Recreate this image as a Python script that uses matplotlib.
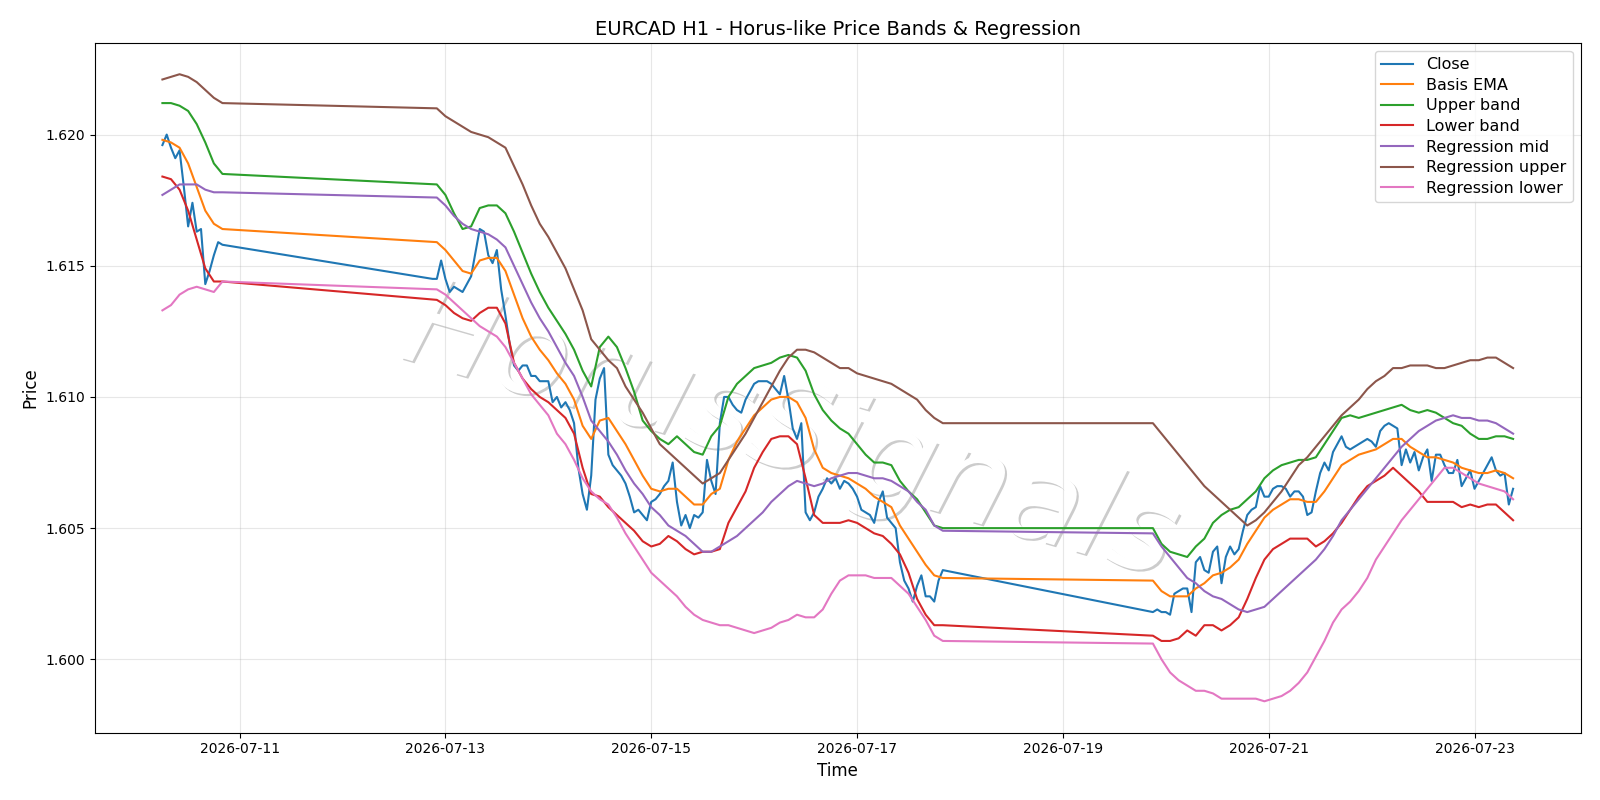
import pandas as pd
import matplotlib
matplotlib.use('Agg')
import matplotlib.pyplot as plt
import matplotlib.patheffects as pe

# ---- time axes (H1 bars, weekend gaps) ----
t_close = (pd.date_range('2026-07-10 06:00', '2026-07-10 20:00', freq='h')
           .append(pd.date_range('2026-07-12 21:00', '2026-07-17 20:00', freq='h'))
           .append(pd.date_range('2026-07-19 21:00', '2026-07-23 09:00', freq='h')))
# smooth lines
t_band = (pd.date_range('2026-07-10 06:00', '2026-07-10 20:00', freq='2h')
          .append(pd.date_range('2026-07-12 22:00', '2026-07-17 20:00', freq='2h'))
          .append(pd.date_range('2026-07-19 21:00', '2026-07-23 09:00', freq='2h')))

close = [
    # Fri 07-10
    1.6196, 1.6200, 1.6195, 1.6191, 1.6194, 1.6180, 1.6165, 1.6174, 1.6163, 1.6164,
    1.6143, 1.6148, 1.6154, 1.6159, 1.6158,
    # 07-12 .. 07-17
    1.6145, 1.6145, 1.6152, 1.6145, 1.6140, 1.6142, 1.6141, 1.6140, 1.6143, 1.6146,
    1.6155, 1.6164, 1.6163, 1.6154, 1.6151, 1.6156, 1.6141, 1.6131, 1.6120, 1.6112,
    1.6110, 1.6112, 1.6112, 1.6108, 1.6108, 1.6106, 1.6106, 1.6106, 1.6098, 1.6100,
    1.6096, 1.6098, 1.6095, 1.6090, 1.6073, 1.6063, 1.6057, 1.6070, 1.6099, 1.6107,
    1.6111, 1.6078, 1.6074, 1.6072, 1.6070, 1.6067, 1.6062, 1.6056, 1.6057, 1.6055,
    1.6053, 1.6060, 1.6061, 1.6063, 1.6066, 1.6068, 1.6075, 1.6060, 1.6051, 1.6055,
    1.6050, 1.6055, 1.6054, 1.6056, 1.6076, 1.6068, 1.6063, 1.6090, 1.6100, 1.6100,
    1.6097, 1.6095, 1.6094, 1.6099, 1.6102, 1.6105, 1.6106, 1.6106, 1.6106, 1.6105,
    1.6103, 1.6101, 1.6108, 1.6099, 1.6088, 1.6084, 1.6090, 1.6056, 1.6053, 1.6056,
    1.6062, 1.6065, 1.6069, 1.6067, 1.6069, 1.6065, 1.6068, 1.6067, 1.6065, 1.6062,
    1.6057, 1.6056, 1.6055, 1.6052, 1.6060, 1.6064, 1.6054, 1.6052, 1.6050, 1.6037,
    1.6030, 1.6027, 1.6022, 1.6028, 1.6032, 1.6024, 1.6024, 1.6022, 1.6030, 1.6034,
    # 07-19 .. 07-23
    1.6018, 1.6019, 1.6018, 1.6018, 1.6017, 1.6025, 1.6026, 1.6027, 1.6027, 1.6018,
    1.6037, 1.6039, 1.6034, 1.6033, 1.6041, 1.6043, 1.6029, 1.6039, 1.6043, 1.6040,
    1.6042, 1.6049, 1.6055, 1.6057, 1.6058, 1.6066, 1.6062, 1.6062, 1.6065, 1.6066,
    1.6066, 1.6065, 1.6062, 1.6064, 1.6064, 1.6062, 1.6055, 1.6056, 1.6064, 1.6071,
    1.6075, 1.6072, 1.6079, 1.6082, 1.6085, 1.6081, 1.6080, 1.6081, 1.6082, 1.6083,
    1.6084, 1.6083, 1.6081, 1.6087, 1.6089, 1.6090, 1.6089, 1.6088, 1.6074, 1.6080,
    1.6075, 1.6079, 1.6072, 1.6077, 1.6080, 1.6068, 1.6078, 1.6078, 1.6074, 1.6071,
    1.6071, 1.6076, 1.6066, 1.6069, 1.6072, 1.6065, 1.6068, 1.6071, 1.6074, 1.6077,
    1.6072, 1.6070, 1.6071, 1.6059, 1.6065,
]

basis_ema = [
    1.6198, 1.6197, 1.6195, 1.6189, 1.6180, 1.6171, 1.6166, 1.6164,
    1.6159, 1.6156, 1.6152, 1.6148, 1.6147, 1.6152, 1.6153, 1.6153, 1.6148, 1.6139,
    1.6130, 1.6123, 1.6118, 1.6114, 1.6109, 1.6105, 1.6099, 1.6089, 1.6084, 1.6091,
    1.6092, 1.6087, 1.6082, 1.6076, 1.6070, 1.6065, 1.6064, 1.6065, 1.6065, 1.6062,
    1.6059, 1.6059, 1.6063, 1.6065, 1.6076, 1.6083, 1.6088, 1.6093, 1.6096, 1.6099,
    1.6100, 1.6100, 1.6098, 1.6092, 1.6080, 1.6073, 1.6071, 1.6070, 1.6069, 1.6067,
    1.6065, 1.6062, 1.6060, 1.6058, 1.6051, 1.6046, 1.6041, 1.6036, 1.6032, 1.6031,
    1.6030, 1.6026, 1.6024, 1.6024, 1.6024, 1.6027, 1.6029, 1.6032, 1.6033, 1.6035,
    1.6038, 1.6044, 1.6049, 1.6054, 1.6057, 1.6059, 1.6061, 1.6061, 1.6060, 1.6060,
    1.6064, 1.6069, 1.6074, 1.6076, 1.6078, 1.6079, 1.6080, 1.6082, 1.6084, 1.6084,
    1.6081, 1.6079, 1.6077, 1.6077, 1.6076, 1.6075, 1.6073, 1.6072, 1.6071, 1.6071,
    1.6072, 1.6071, 1.6069,
]

upper_band = [
    1.6212, 1.6212, 1.6211, 1.6209, 1.6204, 1.6197, 1.6189, 1.6185,
    1.6181, 1.6177, 1.6170, 1.6164, 1.6165, 1.6172, 1.6173, 1.6173, 1.6170, 1.6163,
    1.6155, 1.6147, 1.6140, 1.6134, 1.6129, 1.6124, 1.6118, 1.6110, 1.6104, 1.6119,
    1.6123, 1.6119, 1.6111, 1.6102, 1.6091, 1.6087, 1.6084, 1.6082, 1.6085, 1.6082,
    1.6079, 1.6078, 1.6085, 1.6089, 1.6100, 1.6105, 1.6108, 1.6111, 1.6112, 1.6113,
    1.6115, 1.6116, 1.6115, 1.6110, 1.6101, 1.6095, 1.6091, 1.6088, 1.6086, 1.6082,
    1.6078, 1.6075, 1.6075, 1.6074, 1.6068, 1.6064, 1.6061, 1.6056, 1.6051, 1.6050,
    1.6050, 1.6044, 1.6041, 1.6040, 1.6039, 1.6043, 1.6046, 1.6052, 1.6055, 1.6057,
    1.6058, 1.6061, 1.6064, 1.6069, 1.6072, 1.6074, 1.6075, 1.6076, 1.6076, 1.6077,
    1.6082, 1.6087, 1.6092, 1.6093, 1.6092, 1.6093, 1.6094, 1.6095, 1.6096, 1.6097,
    1.6095, 1.6094, 1.6095, 1.6094, 1.6092, 1.6090, 1.6089, 1.6086, 1.6084, 1.6084,
    1.6085, 1.6085, 1.6084,
]

lower_band = [
    1.6184, 1.6183, 1.6179, 1.6171, 1.6160, 1.6149, 1.6144, 1.6144,
    1.6137, 1.6135, 1.6132, 1.6130, 1.6129, 1.6132, 1.6134, 1.6134, 1.6128, 1.6113,
    1.6107, 1.6103, 1.6100, 1.6098, 1.6095, 1.6092, 1.6086, 1.6073, 1.6063, 1.6062,
    1.6058, 1.6055, 1.6052, 1.6049, 1.6045, 1.6043, 1.6044, 1.6047, 1.6045, 1.6042,
    1.6040, 1.6041, 1.6041, 1.6042, 1.6052, 1.6058, 1.6064, 1.6073, 1.6079, 1.6084,
    1.6085, 1.6085, 1.6082, 1.6069, 1.6055, 1.6052, 1.6052, 1.6052, 1.6053, 1.6052,
    1.6050, 1.6048, 1.6047, 1.6044, 1.6040, 1.6033, 1.6023, 1.6017, 1.6013, 1.6013,
    1.6009, 1.6007, 1.6007, 1.6008, 1.6011, 1.6009, 1.6013, 1.6013, 1.6011, 1.6013,
    1.6016, 1.6023, 1.6031, 1.6038, 1.6042, 1.6044, 1.6046, 1.6046, 1.6046, 1.6043,
    1.6045, 1.6048, 1.6052, 1.6057, 1.6062, 1.6066, 1.6068, 1.6070, 1.6073, 1.6070,
    1.6067, 1.6064, 1.6060, 1.6060, 1.6060, 1.6060, 1.6058, 1.6059, 1.6058, 1.6059,
    1.6059, 1.6056, 1.6053,
]

reg_mid = [
    1.6177, 1.6179, 1.6181, 1.6181, 1.6181, 1.6179, 1.6178, 1.6178,
    1.6176, 1.6173, 1.6169, 1.6166, 1.6164, 1.6163, 1.6162, 1.6160, 1.6157, 1.6150,
    1.6143, 1.6136, 1.6130, 1.6125, 1.6119, 1.6113, 1.6108, 1.6100, 1.6091, 1.6087,
    1.6083, 1.6078, 1.6072, 1.6067, 1.6063, 1.6058, 1.6055, 1.6051, 1.6049, 1.6047,
    1.6044, 1.6041, 1.6041, 1.6043, 1.6045, 1.6047, 1.6050, 1.6053, 1.6056, 1.6060,
    1.6063, 1.6066, 1.6068, 1.6067, 1.6066, 1.6067, 1.6069, 1.6070, 1.6071, 1.6071,
    1.6070, 1.6069, 1.6069, 1.6068, 1.6066, 1.6064, 1.6060, 1.6057, 1.6051, 1.6049,
    1.6048, 1.6043, 1.6039, 1.6035, 1.6031, 1.6029, 1.6026, 1.6024, 1.6023, 1.6021,
    1.6019, 1.6018, 1.6019, 1.6020, 1.6023, 1.6026, 1.6029, 1.6032, 1.6035, 1.6038,
    1.6042, 1.6047, 1.6053, 1.6057, 1.6061, 1.6065, 1.6069, 1.6073, 1.6077, 1.6081,
    1.6084, 1.6087, 1.6089, 1.6091, 1.6092, 1.6093, 1.6092, 1.6092, 1.6091, 1.6091,
    1.6090, 1.6088, 1.6086,
]

reg_upper = [
    1.6221, 1.6222, 1.6223, 1.6222, 1.6220, 1.6217, 1.6214, 1.6212,
    1.6210, 1.6207, 1.6205, 1.6203, 1.6201, 1.6200, 1.6199, 1.6197, 1.6195, 1.6188,
    1.6181, 1.6173, 1.6166, 1.6161, 1.6155, 1.6149, 1.6141, 1.6133, 1.6122, 1.6118,
    1.6114, 1.6111, 1.6104, 1.6099, 1.6094, 1.6088, 1.6082, 1.6079, 1.6076, 1.6073,
    1.6070, 1.6067, 1.6069, 1.6071, 1.6076, 1.6081, 1.6086, 1.6092, 1.6098, 1.6104,
    1.6110, 1.6115, 1.6118, 1.6118, 1.6117, 1.6115, 1.6113, 1.6111, 1.6111, 1.6109,
    1.6108, 1.6107, 1.6106, 1.6105, 1.6103, 1.6101, 1.6099, 1.6095, 1.6092, 1.6090,
    1.6090, 1.6086, 1.6082, 1.6078, 1.6074, 1.6070, 1.6066, 1.6063, 1.6060, 1.6057,
    1.6054, 1.6051, 1.6053, 1.6056, 1.6060, 1.6064, 1.6069, 1.6074, 1.6077, 1.6081,
    1.6085, 1.6089, 1.6093, 1.6096, 1.6099, 1.6103, 1.6106, 1.6108, 1.6111, 1.6111,
    1.6112, 1.6112, 1.6112, 1.6111, 1.6111, 1.6112, 1.6113, 1.6114, 1.6114, 1.6115,
    1.6115, 1.6113, 1.6111,
]

reg_lower = [
    1.6133, 1.6135, 1.6139, 1.6141, 1.6142, 1.6141, 1.6140, 1.6144,
    1.6141, 1.6139, 1.6136, 1.6133, 1.6130, 1.6127, 1.6125, 1.6123, 1.6119, 1.6113,
    1.6107, 1.6101, 1.6097, 1.6093, 1.6086, 1.6082, 1.6076, 1.6069, 1.6064, 1.6061,
    1.6059, 1.6054, 1.6048, 1.6043, 1.6038, 1.6033, 1.6030, 1.6027, 1.6024, 1.6020,
    1.6017, 1.6015, 1.6014, 1.6013, 1.6013, 1.6012, 1.6011, 1.6010, 1.6011, 1.6012,
    1.6014, 1.6015, 1.6017, 1.6016, 1.6016, 1.6019, 1.6025, 1.6030, 1.6032, 1.6032,
    1.6032, 1.6031, 1.6031, 1.6031, 1.6028, 1.6025, 1.6020, 1.6015, 1.6009, 1.6007,
    1.6006, 1.6000, 1.5995, 1.5992, 1.5990, 1.5988, 1.5988, 1.5987, 1.5985, 1.5985,
    1.5985, 1.5985, 1.5985, 1.5984, 1.5985, 1.5986, 1.5988, 1.5991, 1.5995, 1.6001,
    1.6007, 1.6014, 1.6019, 1.6022, 1.6026, 1.6031, 1.6038, 1.6043, 1.6048, 1.6053,
    1.6057, 1.6061, 1.6065, 1.6069, 1.6073, 1.6073, 1.6071, 1.6069, 1.6067, 1.6066,
    1.6065, 1.6064, 1.6061,
]

fig, ax = plt.subplots(figsize=(16, 8), dpi=100)

ax.plot(t_close, close, label='Close')
ax.plot(t_band, basis_ema, label='Basis EMA')
ax.plot(t_band, upper_band, label='Upper band')
ax.plot(t_band, lower_band, label='Lower band')
ax.plot(t_band, reg_mid, label='Regression mid')
ax.plot(t_band, reg_upper, label='Regression upper')
ax.plot(t_band, reg_lower, label='Regression lower')

# watermark
ax.text(0.468, 0.432, 'HorusSignals', transform=ax.transAxes, fontsize=88,
        style='italic', color='white', rotation=-16, ha='center', va='center',
        zorder=1,
        path_effects=[pe.withSimplePatchShadow(offset=(1.5, -1.5), shadow_rgbFace='0.5',
                                               alpha=0.4)])

ax.set_title('EURCAD H1 - Horus-like Price Bands & Regression', fontsize=14)
ax.set_xlabel('Time', fontsize=12)
ax.set_ylabel('Price', fontsize=12)
ax.grid(True, alpha=0.3)
ax.legend(loc='upper right', fontsize=11.5, labelspacing=0.35)

fig.subplots_adjust(left=0.0593, right=0.9879, top=0.9464, bottom=0.0842)
fig.savefig('out.png', dpi=100)
